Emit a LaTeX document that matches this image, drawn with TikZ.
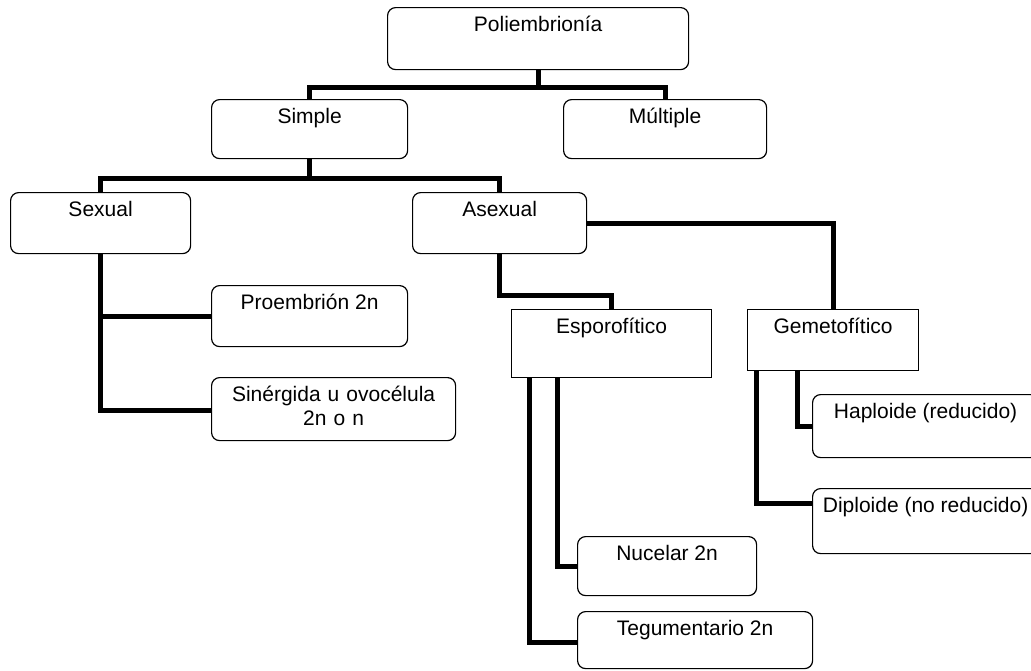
\documentclass[tikz,border=0pt]{standalone}
\usepackage{fontspec}
\setmainfont{Liberation Sans}
\usetikzlibrary{positioning}
\tikzset{
      box/.style 2 args = {draw, line width=1.2pt, rounded corners=8pt,
                     anchor=north west, inner xsep=0pt, inner ysep=9pt,
                     minimum width=#1, minimum height=#2,
                     text height=15pt, text depth=#2-33pt,
                     font=\fontsize{21pt}{24pt}\selectfont},
     sbox/.style 2 args = {box={#1}{#2}, sharp corners},   % <--- square boxes
     link/.style = {line width=5pt},
        }

\begin{document}
\begin{tikzpicture}[x=1pt,y=-1pt]
 \useasboundingbox (0,0) rectangle (1031,670);
 \clip (0,0) rectangle (1031,670);
 % levels 1 and 2
 \node[box={301pt}{62pt}] (poli)   at (387,7)   {Poliembrionía};
 \node[box={196pt}{59pt}] (simple) at (211,99)  {Simple};
 \node[box={203pt}{59pt}] (multi)  at (563,99)  {Múltiple};
 % level 3
 \node[box={180pt}{61pt}] (sexual) at (10,192)  {Sexual};
 \node[box={174pt}{61pt}] (asex)   at (412,192) {Asexual};
 \node[box={196pt}{61pt}] (proemb) at (211,285) {Proembrión 2n};
 \node[box={244pt}{63pt}, text width=244pt, align=center] (sinerg) at (211,377)
      {Sinérgida u ovocélula\\2n o n};
 % level 4
 \node[sbox={200pt}{68pt}] (espor) at (511,309) {Esporofítico};
 \node[sbox={171pt}{61pt}] (gemet) at (747,309) {Gemetofítico};
 \node[box={226pt}{63pt}] (haplo) at (812,394) {Haploide (reducido)};
 \node[box={226pt}{65pt}] (diplo) at (812,488) {Diploide (no reducido)};
 \node[box={179pt}{59pt}] (nucel) at (577,536) {Nucelar 2n};
 \node[box={235pt}{57pt}] (tegum) at (577,611) {Tegumentario 2n};
 % connectors
 \draw[link] (poli.south) -- ++(0,17) coordinate (j1);
 \draw[link] (simple.north) |- (j1) -| (multi.north);
 \draw[link] (simple.south) -- ++(0,19) coordinate (j2);
 \draw[link] (sexual.north) |- (j2) -| (asex.north);
 \draw[link] (sexual.south) |- (proemb.west);
 \draw[link] (sexual.south) |- ([yshift=-1.5pt]sinerg.west);
 \draw[link] (asex.south) -- ++(0,41) -| (espor.north);
 \draw[link] (asex.east) -| (gemet.north);
 \draw[link] ([xshift=46pt]espor.south west) |- (nucel.west);
 \draw[link] ([xshift=18pt]espor.south west) |- ([yshift=-2.5pt]tegum.west);
 \draw[link] ([xshift=50pt]gemet.south west) |- (haplo.west);
 \draw[link] ([xshift=9pt]gemet.south west) |- ([yshift=17.5pt]diplo.west);
\end{tikzpicture}
\end{document}
